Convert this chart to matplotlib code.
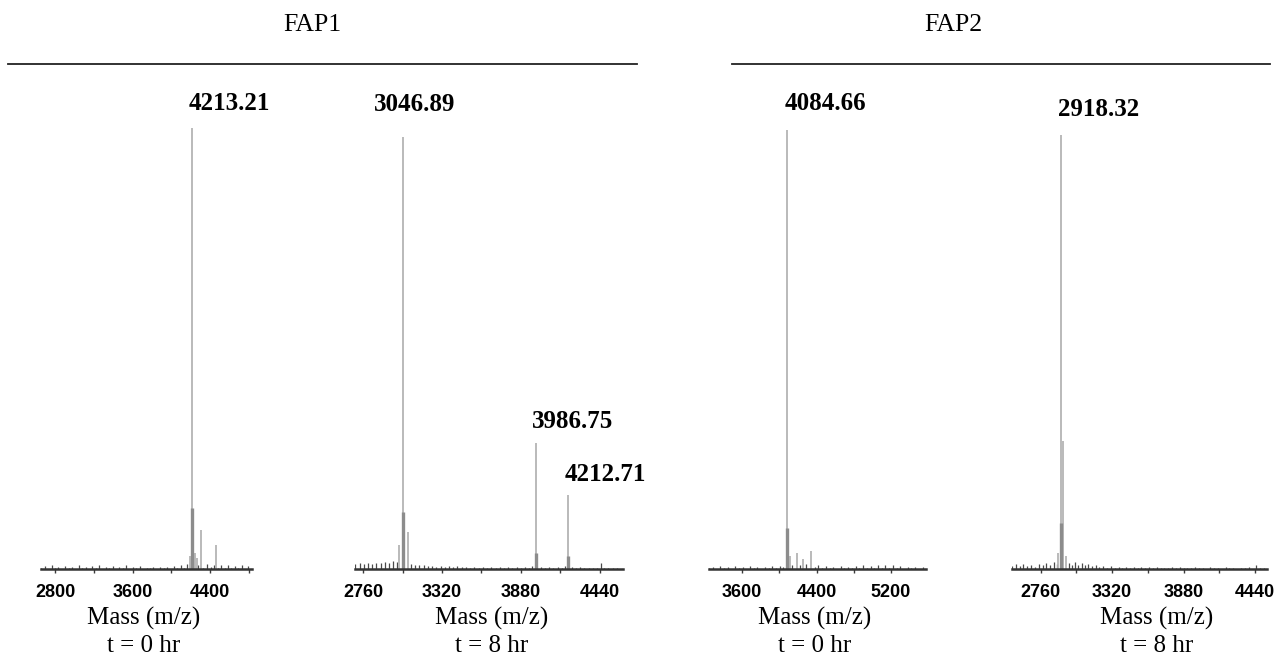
import matplotlib
matplotlib.use("Agg")
import matplotlib.pyplot as plt

# ---- data (m/z, relative intensity) ----
# FAP1, t = 0 hr
p1_mz = [4213.21, 4308, 4462, 4190, 4240, 4262]
p1_int = [98.2, 8.7, 5.3, 3.0, 3.6, 2.4]
p1_base_mz = [4213.21]
p1_base_int = [13.5]
p1_noise_mz = [2660, 2700, 2735, 2770, 2800, 2835, 2870, 2905, 2940, 2975,
               3010, 3045, 3080, 3115, 3150, 3185, 3220, 3255, 3290, 3325,
               3360, 3395, 3430, 3465, 3500, 3535, 3570, 3605, 3640, 3675,
               3710, 3745, 3780, 3815, 3850, 3885, 3920, 3955, 3990, 4025,
               4060, 4095, 4130, 4165, 4200, 4280, 4330, 4370, 4410, 4445,
               4480, 4515, 4550, 4585, 4620, 4655, 4690, 4725, 4760, 4795, 4830]
p1_noise_int = [0.2, 0.6, 0.1, 0.8, 0.2, 0.5, 0.1, 0.7, 0.2, 0.5,
                0.1, 0.9, 0.2, 0.4, 0.1, 0.7, 0.2, 1.0, 0.1, 0.5,
                0.2, 0.6, 0.1, 0.4, 0.2, 0.8, 0.1, 0.4, 0.2, 0.6,
                0.1, 0.3, 0.2, 0.5, 0.1, 0.4, 0.2, 0.5, 0.1, 0.7,
                0.2, 0.9, 0.3, 1.2, 0.5, 0.8, 0.3, 1.1, 0.4, 1.0,
                0.2, 0.8, 0.2, 0.9, 0.3, 0.6, 0.2, 0.8, 0.1, 0.6, 0.2]

# FAP1, t = 8 hr
p2_mz = [3017, 3046.89, 3079, 3986.75, 4212.71]
p2_int = [5.3, 96.2, 8.3, 28.1, 16.5]
p2_base_mz = [3046.89, 3986.75, 4212.71]
p2_base_int = [12.8, 3.6, 3.0]
p2_noise_mz = [2703, 2735, 2765, 2795, 2825, 2855, 2885, 2915, 2945, 2975,
               3000, 3100, 3130, 3160, 3190, 3220, 3250, 3280, 3310, 3340,
               3370, 3400, 3430, 3460, 3490, 3520, 3550, 3580, 3610, 3640,
               3670, 3700, 3730, 3760, 3790, 3820, 3850, 3880, 3910, 3940,
               3960, 4020, 4050, 4080, 4110, 4140, 4170, 4190, 4240, 4270,
               4300, 4330, 4360, 4390, 4420, 4445, 4470, 4500, 4530, 4560, 4604]
p2_noise_int = [1.1, 1.3, 1.2, 1.4, 1.2, 1.4, 1.3, 1.5, 1.4, 1.7,
                1.6, 1.1, 0.9, 0.8, 0.9, 0.6, 0.7, 0.5, 0.6, 0.5,
                0.6, 0.4, 0.6, 0.4, 0.5, 0.3, 0.5, 0.3, 0.4, 0.3,
                0.5, 0.3, 0.4, 0.3, 0.4, 0.2, 0.4, 0.3, 0.4, 0.3,
                0.7, 0.5, 0.3, 0.4, 0.3, 0.4, 0.2, 0.6, 0.5, 0.3,
                0.4, 0.2, 0.3, 0.2, 0.3, 1.4, 0.3, 0.2, 0.3, 0.2, 0.3]

# FAP2, t = 0 hr
p3_mz = [4084.66, 4188, 4341, 4120, 4250]
p3_int = [97.8, 3.6, 3.9, 3.0, 2.2]
p3_base_mz = [4084.66]
p3_base_int = [9.1]
p3_noise_mz = [3245, 3285, 3325, 3365, 3405, 3445, 3485, 3525, 3565, 3605,
               3645, 3685, 3725, 3765, 3805, 3845, 3885, 3925, 3965, 4005,
               4045, 4140, 4220, 4290, 4380, 4420, 4460, 4500, 4540, 4580,
               4620, 4660, 4700, 4740, 4780, 4820, 4860, 4900, 4940, 4980,
               5020, 5060, 5100, 5140, 5180, 5220, 5260, 5300, 5340, 5380,
               5420, 5460, 5500, 5540, 5576]
p3_noise_int = [0.2, 0.5, 0.1, 0.6, 0.2, 0.4, 0.1, 0.7, 0.2, 0.5,
                0.1, 0.6, 0.2, 0.4, 0.1, 0.5, 0.2, 0.7, 0.2, 0.6,
                0.5, 1.0, 0.8, 1.1, 0.4, 0.8, 0.2, 0.6, 0.2, 0.4,
                0.1, 0.6, 0.2, 0.5, 0.2, 0.7, 0.3, 0.9, 0.2, 0.7,
                0.3, 1.0, 0.3, 0.8, 0.2, 1.0, 0.2, 0.6, 0.1, 0.5,
                0.2, 0.4, 0.1, 0.4, 0.2]

# FAP2, t = 8 hr
p4_mz = [2918.32, 2936, 2895, 2960]
p4_int = [96.7, 28.4, 3.5, 3.0]
p4_base_mz = [2918.32]
p4_base_int = [10.2]
p4_noise_mz = [2535, 2565, 2595, 2625, 2655, 2685, 2715, 2745, 2775, 2805,
               2835, 2865, 2885, 2980, 3005, 3030, 3055, 3080, 3105, 3130,
               3160, 3190, 3220, 3250, 3280, 3310, 3340, 3370, 3400, 3430,
               3460, 3490, 3520, 3550, 3580, 3610, 3640, 3670, 3700, 3730,
               3760, 3790, 3820, 3850, 3880, 3910, 3940, 3970, 4000, 4030,
               4060, 4090, 4120, 4150, 4180, 4210, 4240, 4270, 4300, 4330,
               4360, 4390, 4420, 4450, 4480, 4510, 4534]
p4_noise_int = [0.7, 1.1, 0.6, 1.2, 0.7, 1.0, 0.5, 1.1, 0.8, 1.3,
                0.9, 1.5, 1.2, 1.4, 1.0, 1.5, 0.8, 1.3, 0.9, 1.2,
                0.6, 0.8, 0.4, 0.7, 0.3, 0.6, 0.3, 0.5, 0.2, 0.5,
                0.3, 0.4, 0.2, 0.5, 0.2, 0.4, 0.2, 0.4, 0.2, 0.3,
                0.2, 0.5, 0.2, 0.4, 0.2, 0.3, 0.2, 0.4, 0.2, 0.3,
                0.1, 0.4, 0.2, 0.3, 0.1, 0.4, 0.2, 0.3, 0.1, 0.3,
                0.2, 0.4, 0.1, 1.0, 0.2, 0.3, 0.2]

p1_ticks = [2800, 3600, 4400]
p2_ticks = [2760, 3320, 3880, 4440]
p3_ticks = [3600, 4400, 5200]
p4_ticks = [2760, 3320, 3880, 4440]

p1_labels = ["4213.21"]
p2_labels = ["3046.89", "3986.75", "4212.71"]
p3_labels = ["4084.66"]
p4_labels = ["2918.32"]

times = ["t = 0 hr", "t = 8 hr", "t = 0 hr", "t = 8 hr"]
groups = ["FAP1", "FAP2"]

W, H = 1277, 656
fig = plt.figure(figsize=(W / 100, H / 100), dpi=100)

# panel layout in pixels: axis x0, x1, xlim, label offsets, text centre
panels = [
    dict(mz=p1_mz, it=p1_int, bmz=p1_base_mz, bit=p1_base_int,
         nmz=p1_noise_mz, nit=p1_noise_int, ticks=p1_ticks,
         labels=[(p1_mz[0], p1_int[0], p1_labels[0], (-3, 13))],
         x0=41, x1=252, xlim=(2655, 4833), tx=144),
    dict(mz=p2_mz, it=p2_int, bmz=p2_base_mz, bit=p2_base_int,
         nmz=p2_noise_mz, nit=p2_noise_int, ticks=p2_ticks,
         labels=[(p2_mz[1], p2_int[1], p2_labels[0], (-30, 21)),
                 (p2_mz[3], p2_int[3], p2_labels[1], (-4, 10)),
                 (p2_mz[4], p2_int[4], p2_labels[2], (-3, 9))],
         x0=355, x1=623, xlim=(2703, 4604), tx=492),
    dict(mz=p3_mz, it=p3_int, bmz=p3_base_mz, bit=p3_base_int,
         nmz=p3_noise_mz, nit=p3_noise_int, ticks=p3_ticks,
         labels=[(p3_mz[0], p3_int[0], p3_labels[0], (-3, 15))],
         x0=709, x1=926, xlim=(3245, 5576), tx=815),
    dict(mz=p4_mz, it=p4_int, bmz=p4_base_mz, bit=p4_base_int,
         nmz=p4_noise_mz, nit=p4_noise_int, ticks=p4_ticks,
         labels=[(p4_mz[0], p4_int[0], p4_labels[0], (-3, 14))],
         x0=1012, x1=1267, xlim=(2535, 4534), tx=1157),
]

base_y = 569
top_y = 120

for i, p in enumerate(panels):
    ax = fig.add_axes([p["x0"] / W, (H - base_y) / H,
                       (p["x1"] - p["x0"]) / W, (base_y - top_y) / H])
    ax.set_xlim(*p["xlim"])
    ax.set_ylim(0, 100)
    ax.vlines(p["nmz"], 0, p["nit"], color="#4a4a4a", lw=0.9)
    ax.vlines(p["mz"], 0, p["it"], color="#b4b4b4", lw=1.3)
    ax.vlines(p["bmz"], 0, p["bit"], color="#8c8c8c", lw=2.4)
    for side in ["top", "left", "right"]:
        ax.spines[side].set_visible(False)
    ax.spines["bottom"].set_color("#333333")
    ax.spines["bottom"].set_linewidth(1.8)
    ax.set_yticks([])
    ax.set_xticks(p["ticks"])
    step = p["ticks"][1] - p["ticks"][0]
    minors = [t + step / 2 for t in [p["ticks"][0] - step] + p["ticks"]]
    ax.set_xticks([m for m in minors if p["xlim"][0] < m < p["xlim"][1]], minor=True)
    ax.tick_params(axis="x", which="both", direction="out", length=3,
                   width=1, color="#3a3a3a", pad=8)
    ax.set_xticklabels([str(t) for t in p["ticks"]], family="Liberation Sans",
                       fontweight="bold", fontsize=13)
    ax.patch.set_alpha(0)
    for mz, it, txt, off in p["labels"]:
        ax.annotate(txt, xy=(mz, it), xytext=off, textcoords="offset pixels",
                    ha="left", va="bottom", family="Liberation Serif",
                    fontweight="bold", fontsize=18, annotation_clip=False)
    fig.text(p["tx"] / W, 1 - 618 / H, "Mass (m/z)", ha="center", va="center",
             family="Liberation Serif", fontsize=18)
    fig.text(p["tx"] / W, 1 - 646 / H, times[i], ha="center", va="center",
             family="Liberation Serif", fontsize=18)

# group headers with rules
for name, cx, lx0, lx1 in [(groups[0], 312, 8, 637), (groups[1], 953, 732, 1270)]:
    fig.text(cx / W, 1 - 25 / H, name, ha="center", va="center",
             family="Liberation Serif", fontsize=18.5)
    fig.add_artist(plt.Line2D([lx0 / W, lx1 / W], [1 - 63.5 / H, 1 - 63.5 / H],
                              color="#222222", lw=1.3))

fig.savefig("out.png", dpi=100)
